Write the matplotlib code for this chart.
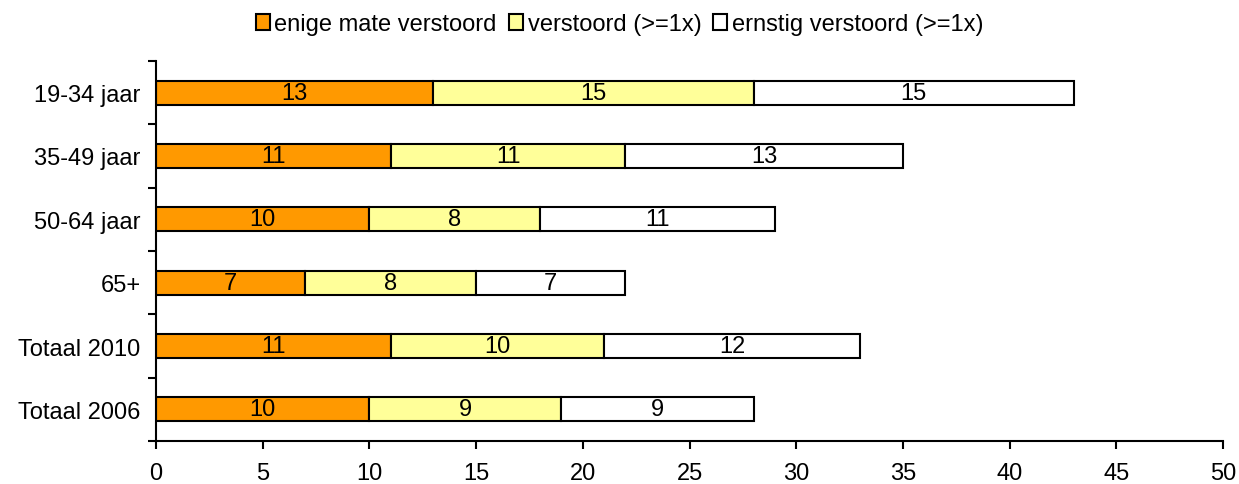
import matplotlib
matplotlib.use("Agg")
import matplotlib.pyplot as plt
from matplotlib.patches import Patch
import numpy as np

plt.rcParams['font.family'] = ['Liberation Sans', 'DejaVu Sans']

categories = ["19-34 jaar", "35-49 jaar", "50-64 jaar", "65+", "Totaal 2010", "Totaal 2006"]
enige = [13, 11, 10, 7, 11, 10]
verstoord = [15, 11, 8, 8, 10, 9]
ernstig = [15, 13, 11, 7, 12, 9]
series_names = ["enige mate verstoord", "verstoord (>=1x)", "ernstig verstoord (>=1x)"]
colors = ["#FF9900", "#FFFF99", "#FFFFFF"]

fig = plt.figure(figsize=(12.39, 4.85), dpi=100)
ax = fig.add_axes([156/1239, 1-442/485, (1223-156)/1239, (442-62)/485])

y = np.arange(len(categories))
left = np.zeros(len(categories))
fs = 17
for vals, col, name in zip([enige, verstoord, ernstig], colors, series_names):
    bars = ax.barh(y, vals, left=left, height=0.38, color=col, edgecolor="black", linewidth=1.5, label=name)
    for b, v in zip(bars, vals):
        ax.text(b.get_x() + b.get_width()/2, b.get_y() + b.get_height()/2, str(v),
                ha="center", va="center", fontsize=fs)
    left = left + np.array(vals)

ax.set_ylim(len(categories) - 0.5, -0.5)
ax.set_xlim(0, 50)
ax.set_yticks(y)
ax.set_yticklabels(categories, fontsize=fs)
ax.set_yticks(np.arange(-0.5, len(categories), 1), minor=True)
ax.tick_params(axis="y", which="major", length=0, pad=11)
ax.tick_params(axis="y", which="minor", length=6, width=1.5, direction="out")
ax.set_xticks(np.arange(0, 51, 5))
ax.tick_params(axis="x", which="major", length=6, width=1.5, direction="out", labelsize=fs, pad=9)
for s in ["top", "right"]:
    ax.spines[s].set_visible(False)
for s in ["left", "bottom"]:
    ax.spines[s].set_linewidth(1.5)

handles = [Patch(facecolor=c, edgecolor="black", linewidth=1.5) for c in colors]
fig.legend(handles, series_names, loc="upper center", bbox_to_anchor=(0.5, 1.0), ncol=3,
           frameon=False, fontsize=fs, handlelength=0.6, handleheight=0.7,
           handletextpad=0.2, columnspacing=0.5, borderaxespad=0.2)

fig.savefig("out.png", dpi=100)
